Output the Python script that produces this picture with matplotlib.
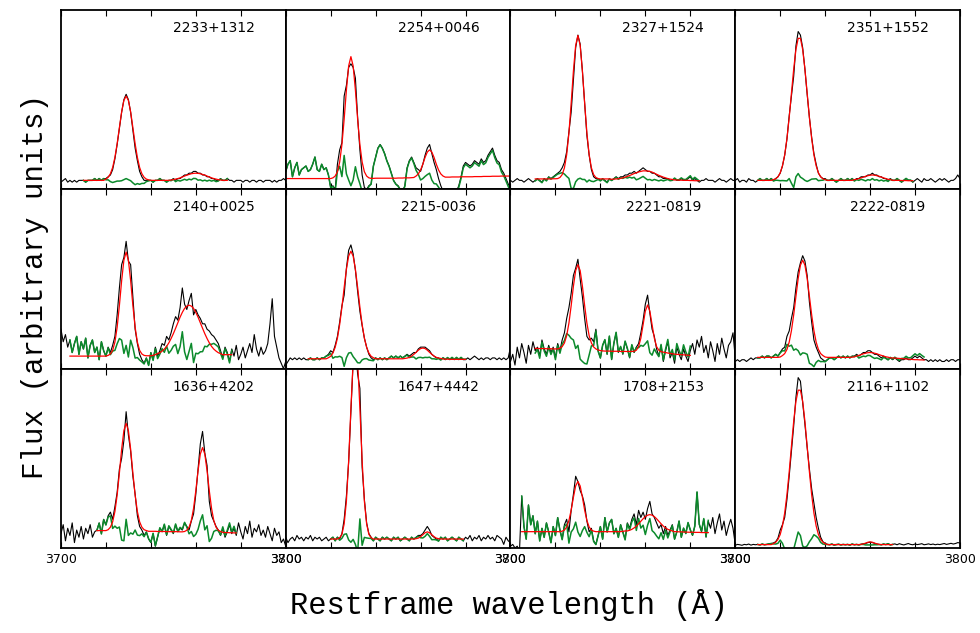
import numpy as np
import matplotlib
matplotlib.use("Agg")
import matplotlib.pyplot as plt

# restframe wavelength grid, 1 A bins
wave = np.arange(3700, 3801)

names = ["2233+1312", "2254+0046", "2327+1524", "2351+1552",
         "2140+0025", "2215-0036", "2221-0819", "2222-0819",
         "1636+4202", "1647+4442", "1708+2153", "2116+1102"]

# observed flux (arbitrary units), 3700..3800
flux_2233 = [4, 5, 6, 4, 5, 4, 5, 4, 5, 5, 5, 4, 5, 5, 5, 6, 5, 6, 5, 6,
             6, 7, 8, 11, 17, 25, 34, 43, 50, 53, 50, 43, 33, 23, 16, 10, 7, 5, 5, 5,
             5, 4, 5, 5, 6, 5, 5, 4, 5, 5, 6, 5, 6, 6, 7, 8, 8, 9, 9, 10,
             10, 9, 9, 8, 8, 7, 7, 6, 6, 5, 5, 6, 5, 5, 6, 5, 5, 4, 5, 5,
             5, 4, 5, 5, 4, 5, 5, 4, 5, 5, 4, 5, 5, 5, 4, 5, 4, 5, 5, 6, 5]
flux_2254 = [10, 14, 16, 7, 12, 15, 8, 11, 12, 13, 10, 11, 14, 18, 11, 10, 14, 11, 12, 8,
             1, 2, 0, 14, 22, 26, 52, 58, 68, 70, 68, 62, 40, 22, 8, 1, 0, 2, 3, 13,
             18, 23, 25, 23, 20, 16, 13, 9, 5, 3, 2, 0, -1, 2, 12, 16, 18, 15, 12, 11,
             10, 14, 19, 23, 25, 20, 15, 11, 6, 2, -1, -2, -3, -3, -2, -3, -1, 2, 7, 13,
             15, 14, 13, 14, 16, 15, 14, 17, 15, 16, 19, 21, 23, 19, 16, 15, 11, 9, 6, 3, 0]
flux_2327 = [5, 4, 5, 6, 5, 5, 4, 5, 6, 5, 4, 5, 6, 5, 4, 6, 5, 7, 6, 7,
             8, 9, 10, 12, 15, 21, 32, 43, 61, 79, 86, 81, 66, 48, 30, 19, 11, 7, 6, 6,
             5, 6, 5, 4, 6, 5, 6, 7, 6, 7, 7, 8, 8, 9, 9, 10, 9, 10, 11, 12,
             11, 10, 10, 9, 9, 8, 7, 7, 6, 6, 6, 5, 5, 6, 5, 5, 6, 5, 5, 6,
             7, 5, 6, 5, 4, 5, 5, 6, 5, 5, 5, 4, 5, 6, 5, 5, 4, 5, 6, 5, 5]
flux_2351 = [5, 6, 4, 5, 5, 4, 6, 5, 5, 4, 5, 6, 5, 5, 6, 5, 6, 5, 6, 7,
             9, 13, 19, 28, 41, 52, 63, 80, 88, 86, 79, 67, 53, 40, 29, 20, 14, 9, 7, 6,
             6, 5, 5, 6, 5, 4, 5, 6, 5, 5, 6, 5, 6, 5, 6, 6, 7, 7, 7, 8,
             8, 9, 8, 8, 7, 7, 6, 6, 5, 6, 5, 5, 6, 5, 4, 5, 6, 5, 5, 4,
             5, 6, 5, 4, 6, 5, 5, 6, 5, 4, 5, 6, 5, 6, 5, 4, 5, 5, 6, 8, 6]
flux_2140 = [22, 15, 19, 12, 16, 9, 14, 18, 8, 15, 11, 17, 6, 13, 16, 9, 12, 5, 15, 10,
             7, 12, 9, 13, 18, 30, 45, 58, 62, 71, 60, 58, 40, 22, 14, 8, 5, 3, 6, 2,
             9, 5, 12, 7, 10, 14, 13, 18, 16, 20, 25, 29, 27, 34, 45, 36, 33, 38, 42, 30,
             33, 30, 28, 25, 25, 22, 21, 19, 18, 16, 14, 10, 6, 12, 9, 4, 11, 7, 13, 5,
             8, 12, 6, 10, 14, 9, 19, 11, 7, 12, 8, 10, 14, 25, 39, 18, 12, 6, 3, 0, 4]
flux_2215 = [2, 4, 6, 5, 6, 5, 6, 5, 6, 5, 5, 6, 5, 5, 6, 5, 6, 6, 7, 8,
             10, 9, 13, 18, 26, 35, 41, 56, 66, 69, 64, 55, 43, 32, 24, 17, 12, 8, 6, 5,
             6, 5, 6, 5, 6, 5, 6, 7, 6, 7, 6, 7, 6, 7, 8, 7, 8, 9, 9, 11,
             12, 12, 12, 11, 10, 8, 7, 6, 6, 5, 6, 5, 6, 5, 6, 5, 6, 5, 6, 5,
             5, 6, 5, 6, 7, 6, 5, 6, 5, 6, 6, 5, 6, 6, 5, 6, 5, 6, 5, 6, 12]
flux_2221 = [4, 8, 2, 12, 6, 14, 9, 3, 13, 8, 15, 10, 12, 7, 16, 11, 8, 13, 9, 12,
             6, 14, 10, 16, 20, 28, 34, 42, 52, 56, 61, 50, 40, 28, 18, 16, 17, 15, 22, 10,
             6, 13, 16, 8, 18, 5, 14, 20, 9, 12, 8, 15, 11, 6, 13, 9, 12, 14, 20, 27,
             36, 41, 31, 22, 18, 11, 7, 13, 4, 10, 15, 6, 9, 3, 12, 8, 5, 11, 7, 4,
             10, 14, 8, 16, 12, 18, 9, 13, 6, 15, 10, 4, 14, 8, 17, 11, 6, 13, 15, 20, 6]
flux_2222 = [4, 5, 4, 5, 5, 4, 5, 6, 5, 6, 6, 6, 7, 6, 7, 7, 6, 7, 8, 7,
             9, 11, 12, 18, 21, 28, 34, 45, 54, 59, 63, 60, 52, 37, 26, 16, 12, 9, 6, 5,
             4, 5, 6, 6, 5, 6, 7, 6, 7, 6, 7, 6, 7, 7, 8, 7, 8, 9, 9, 10,
             10, 9, 8, 8, 7, 6, 7, 6, 5, 6, 5, 6, 5, 4, 5, 5, 6, 5, 5, 6,
             7, 6, 7, 6, 5, 5, 4, 5, 4, 5, 4, 5, 4, 4, 5, 4, 5, 5, 4, 5, 5]
flux_1636 = [8, 13, 4, 11, 7, 14, 3, 10, 6, 12, 5, 11, 8, 13, 6, 9, 10, 14, 8, 16,
             13, 18, 20, 16, 23, 31, 44, 50, 60, 76, 63, 54, 40, 30, 18, 12, 10, 7, 9, 5,
             3, 8, 1, 6, 11, 9, 13, 7, 12, 10, 8, 13, 9, 11, 10, 14, 12, 10, 15, 19,
             30, 44, 58, 65, 53, 46, 26, 18, 15, 12, 10, 7, 11, 6, 9, 13, 8, 11, 7, 14,
             9, 5, 12, 8, 15, 6, 11, 9, 13, 7, 10, 6, 12, 8, 4, 11, 7, 9, 3, 5, 1]
flux_1647 = [6, 3, 5, 6, 4, 7, 5, 6, 4, 6, 5, 7, 4, 6, 5, 6, 4, 5, 6, 4,
             5, 6, 4, 6, 5, 8, 16, 29, 48, 76, 104, 112, 97, 89, 45, 27, 14, 8, 6, 4,
             6, 5, 4, 6, 5, 6, 5, 4, 6, 5, 6, 4, 5, 6, 5, 4, 6, 5, 6, 7,
             7, 8, 10, 12, 10, 7, 6, 5, 4, 6, 5, 6, 4, 5, 6, 5, 4, 6, 5, 4,
             6, 5, 7, 4, 6, 5, 7, 4, 6, 5, 7, 5, 6, 4, 7, 6, 5, 2, 6, 4, 3]
flux_1708 = [1, 2, 0, 1, -2, 29, 12, 5, 24, 13, 18, 8, 15, 4, 11, 6, 14, 9, 3, 12,
             7, 17, 10, 5, 13, 16, 9, 21, 30, 40, 37, 32, 29, 24, 15, 9, 11, 4, 2, 7,
             12, 5, 17, 9, 14, 16, 8, 11, 6, 13, 9, 5, 14, 11, 16, 19, 13, 21, 17, 20,
             16, 22, 26, 19, 17, 14, 11, 13, 8, 12, 7, 10, 13, 5, 9, 15, 6, 11, 8, 14,
             10, 7, 12, 31, 13, 9, 16, 6, 15, 11, 17, 8, 14, 19, 10, 15, 7, 12, 16, 11, 2]
flux_2116 = [1.5, 2, 1.8, 1.5, 2, 1.8, 2.2, 1.6, 2, 1.8, 2, 1.7, 2.2, 1.8, 2, 2.3, 2.5, 2.8, 3.5, 5.5,
             10, 13, 17, 27, 40, 54, 68, 84, 95, 93, 81, 69, 56, 44, 33, 25, 17, 11, 6, 3.5,
             2.5, 2, 1.8, 2.2, 1.6, 1.9, 2.1, 1.7, 2, 1.8, 2, 1.6, 2.2, 1.8, 2, 1.7, 2.1, 2.4, 2.5, 3,
             3.2, 3, 2.6, 2.2, 2, 1.8, 2.2, 1.9, 2.4, 1.7, 2, 2.3, 1.8, 2.4, 2, 1.7, 2.1, 2.5, 2, 1.8,
             2.2, 1.9, 2.1, 2.4, 1.8, 2, 2.3, 1.9, 2.2, 1.8, 2.1, 1.9, 2.2, 2.5, 2, 2.3, 2.6, 2.2, 2.5, 3, 2.8]

# line fits, starting at fit_start (1 A bins)
fit_start = [3710, 3700, 3711, 3710, 3704, 3710, 3711, 3710, 3716, 3720, 3705, 3710]
fit_2233 = [5, 5, 5, 5, 5, 5, 5, 5, 5, 5,
            5.7, 6.7, 8.7, 12.2, 17.8, 25.4, 34.4, 43.2, 49.6, 52,
            49.6, 43.2, 34.4, 25.4, 17.8, 12.2, 8.7, 6.7, 5.7, 5.3,
            5, 5, 5, 5, 5, 5, 5, 5, 5, 5.2,
            5.4, 5.7, 6, 6.4, 6.9, 7.4, 7.9, 8.3, 8.7, 8.9,
            9, 8.9, 8.7, 8.3, 7.9, 7.4, 6.9, 6.4, 6, 5.7,
            5.4, 5.2, 5, 5, 5]
fit_2254 = [6, 6, 6, 6, 6, 6, 6, 6, 6, 6,
            6, 6, 6, 6, 6, 6, 6, 6, 6, 6,
            6, 6.4, 7.4, 9.8, 15.2, 24.9, 39.1, 55.4, 68.8, 74,
            68.8, 55.4, 39.1, 24.9, 15.2, 9.8, 7.4, 6.4, 6.1, 6.1,
            6.2, 6.2, 6.2, 6.2, 6.2, 6.2, 6.2, 6.2, 6.2, 6.2,
            6.3, 6.3, 6.3, 6.4, 6.4, 6.4, 6.5, 6.6, 7.4, 8.6,
            10.8, 14, 17.8, 20.8, 22, 20.8, 17.8, 14, 10.8, 8.6,
            7.4, 6.8, 6.8, 6.8, 6.9, 6.9, 6.9, 6.9, 7, 7,
            7, 7, 7, 7, 7.1, 7.1, 7.1, 7.1, 7.2, 7.2,
            7.2, 7.2, 7.3, 7.3, 7.3, 7.3, 7.4, 7.4, 7.4, 7.4, 7.4]
fit_2327 = [5.8, 5.8, 5.8, 5.8, 5.8, 5.8, 5.8, 5.8, 5.9,
            5.9, 6, 6.6, 8.2, 12, 19.3, 31.4, 48, 66, 80.3,
            85.8, 80.3, 66, 48, 31.4, 19.3, 12, 8.2, 6.6, 6,
            5.8, 5.8, 5.8, 5.8, 5.8, 5.6, 5.7, 5.8, 5.9, 6.1,
            6.4, 6.8, 7.2, 7.7, 8.2, 8.8, 9.2, 9.7, 10, 10.3,
            10.3, 10.2, 10, 9.6, 9, 8.4, 7.8, 7.3, 6.8, 6.4,
            6, 5.7, 5.5, 5.2, 5.2, 5.1, 5.1, 5, 5, 5,
            4.9, 4.9, 4.8, 4.8, 4.8]
fit_2351 = [5, 5, 5, 5, 5, 5, 5, 5.4, 5.9, 7,
            9.2, 13.1, 19.2, 28.3, 40, 53.6, 67, 78, 84.2, 84.2,
            78, 67, 53.6, 40, 28.3, 19.2, 13.1, 9.2, 7, 5.9,
            5.4, 5, 5, 5, 5, 5, 5, 5, 5, 5,
            5, 5, 5, 5.4, 5.6, 6, 6.4, 6.8, 7.3, 7.6,
            7.9, 8, 7.9, 7.6, 7.3, 6.8, 6.4, 6, 5.6, 5.4,
            5, 5, 5, 5, 4.9, 4.9, 4.9, 4.8, 4.8, 4.8]
fit_2140 = [7, 7, 7, 7, 7, 7,
            7, 7, 7, 7, 7, 7, 7, 7, 7, 7,
            7, 7.4, 8.2, 10.2, 14.8, 23.1, 35.2, 49.1, 60.5, 65,
            60.5, 49.1, 35.2, 23.1, 14.8, 10.2, 8.2, 7.4, 7.2, 7.2,
            7.2, 7.4, 7.8, 8.4, 8.9, 9.8, 10.9, 12.4, 14.4, 16.8,
            19.5, 22.5, 25.6, 28.7, 31.4, 33.6, 34.9, 35.4, 34.9, 33.6,
            31.4, 28.7, 25.6, 22.5, 19.5, 16.8, 14.4, 12.4, 10.9, 9.8,
            8.9, 8.4, 7.8, 7.8, 7.8, 7.8, 7.8]
fit_2215 = [5.5, 5.5, 5.5, 5.5, 5.5, 5.5, 5.5, 5.5, 5.5, 6.1,
            6.9, 8.7, 11.9, 17, 24.6, 34.3, 45.2, 55.4, 62.8, 65.5,
            62.8, 55.4, 45.2, 34.3, 24.6, 17, 11.9, 8.7, 6.9, 6.1,
            5.5, 5.5, 5.5, 5.5, 5.5, 5.5, 5.5, 5.5, 5.5, 5.5,
            5.5, 5.5, 5.5, 5.7, 5.9, 6.3, 7, 8, 9.1, 10.3,
            11.2, 11.5, 11.2, 10.3, 9.1, 8, 7, 6.3, 5.9, 5.7,
            5.4, 5.3, 5.3, 5.2, 5.2, 5.2, 5.2, 5.2, 5.2, 5.2,
            5.2]
fit_2221 = [11.3, 11.3, 11.2, 11.2, 11.2, 11.1, 11.1, 11.1, 11,
            11, 11, 11.4, 12.3, 14.3, 18.4, 25.4, 35.1, 46, 54.7,
            58, 54.7, 46, 35.1, 25.4, 18.4, 14.3, 12.1, 11, 10.4,
            10.1, 9.9, 9.8, 9.8, 9.8, 9.7, 9.7, 9.7, 9.7, 9.6,
            9.6, 9.6, 9.6, 9.6, 9.6, 9.7, 10.3, 12.3, 17, 24.5,
            32.1, 35.5, 32.1, 24.5, 17, 12.3, 10.3, 9.5, 9.2, 9,
            8.7, 8.5, 8.3, 8.1, 8, 7.9, 7.8, 7.7, 7.6, 7.5,
            7.4]
fit_2222 = [6.3, 6.3, 6.3, 6.3, 6.3, 6.3, 6.3, 6.3, 6.3, 6.3,
            6.5, 7.3, 8.4, 10.7, 14.8, 21.2, 30, 40.3, 50.3, 57.7,
            60.5, 57.7, 50.3, 40.3, 30, 21.2, 14.8, 10.7, 8.4, 7.3,
            6.5, 6.3, 6.3, 6.3, 6.3, 6.3, 6.3, 6.3, 6.3, 6.3,
            6.3, 6.3, 6.4, 6.6, 7, 7.4, 7.8, 8.3, 8.6, 8.9,
            9, 8.9, 8.6, 8.3, 7.8, 7.4, 7, 6.6, 6.4, 6,
            6, 5.9, 5.8, 5.7, 5.6, 5.5, 5.4, 5.3, 5.2, 5.1,
            5, 5, 4.9, 4.9, 4.8]
fit_1636 = [9.7, 9.7, 9.7, 9.7,
            9.7, 10.2, 11.6, 14.6, 20.3, 29.5, 41.8, 55.1, 65.5, 69.5,
            65.5, 55.1, 41.8, 29.5, 20.3, 14.6, 11.6, 10.2, 9.7, 9.3,
            9.3, 9.3, 9.3, 9.2, 9.2, 9.2, 9.2, 9.1, 9.1, 9.1,
            9.1, 9.1, 9.1, 9, 9, 9.2, 9.9, 11.6, 15.3, 22.1,
            31.9, 43.1, 52.4, 56, 52.4, 43.1, 31.9, 22.1, 15.3, 11.6,
            9.9, 9.2, 8.7, 8.6, 8.6, 8.5, 8.5, 8.4, 8.4]
fit_1647 = [5, 5, 5, 5, 5.7, 7.6, 13.4, 26.1, 48.5, 77.8,
            104.2, 115, 104.2, 77.8, 48.5, 26.1, 13.4, 7.6, 5.7, 5,
            5, 5, 5, 5, 5, 5, 5, 5, 5, 5,
            5, 5, 5, 5, 5, 5, 5, 5, 5.2, 5.5,
            6.3, 7.4, 8.5, 9, 8.5, 7.4, 6.3, 5.5, 5.2, 5,
            5, 5, 5, 5, 5, 5, 5, 5, 5, 5]
fit_1708 = [9.1, 9.1, 9.1, 9.1, 9.1,
            9.1, 9.1, 9.1, 9.1, 9.1, 9.1, 9.1, 9.1, 9.1, 9.1,
            9.1, 9.1, 9.1, 9.4, 10, 11.7, 15.3, 21.1, 28.3, 34.6,
            37.1, 34.6, 28.3, 21.1, 15.3, 11.7, 10, 9.4, 9.1, 9.1,
            9.1, 9.1, 9.1, 9.1, 9.1, 9.1, 9.1, 9.1, 9.1, 9.1,
            9.3, 9.5, 9.5, 9.9, 10.4, 11.2, 12.2, 13.5, 14.9, 16.3,
            17.5, 18.3, 18.6, 18.3, 17.5, 16.3, 14.9, 13.5, 12.2, 11.2,
            10.4, 9.9, 9.5, 9.1, 9.1, 9, 9, 8.9, 8.9, 8.8,
            8.8, 8.8, 8.7, 8.7, 8.7, 8.6, 8.6, 8.6, 8.6]
fit_2116 = [1.9, 1.9, 1.9, 1.9, 1.9, 1.9, 1.9, 2.4, 3.2, 4.8,
            7.5, 12.3, 19.5, 29.7, 42.4, 56.7, 70.6, 81.8, 88, 88,
            81.8, 70.6, 56.7, 42.4, 29.7, 19.5, 12.3, 7.5, 4.8, 3.2,
            2.4, 1.9, 1.9, 1.9, 1.9, 1.9, 1.9, 1.9, 1.9, 1.9,
            1.9, 1.9, 1.9, 1.9, 1.9, 1.9, 2, 2.3, 2.7, 3.2,
            3.4, 3.2, 2.7, 2.3, 2, 1.9, 1.9, 1.9, 1.9, 1.9,
            1.9]

# continuum level the residuals are plotted around
cont = [5, 6, 5.5, 5, 7, 5.5, 10, 6.3, 9.5, 5, 9, 1.9]

fluxes = [flux_2233, flux_2254, flux_2327, flux_2351, flux_2140, flux_2215,
          flux_2221, flux_2222, flux_1636, flux_1647, flux_1708, flux_2116]
fits = [fit_2233, fit_2254, fit_2327, fit_2351, fit_2140, fit_2215,
        fit_2221, fit_2222, fit_1636, fit_1647, fit_1708, fit_2116]

fig, axes = plt.subplots(3, 4, figsize=(9.8, 6.33), dpi=100)
fig.subplots_adjust(left=0.0622, right=0.9796, bottom=0.1343, top=0.9842,
                    wspace=0, hspace=0)

for i, ax in enumerate(axes.flat):
    f = np.array(fluxes[i], dtype=float)
    m = np.array(fits[i], dtype=float)
    w_fit = np.arange(fit_start[i], fit_start[i] + len(m))
    j = fit_start[i] - 3700
    resid = f[j:j + len(m)] - m + cont[i]

    ax.plot(wave, f, color="black", lw=0.8)
    ax.plot(w_fit, resid, color="#0b8a2b", lw=1.1)
    ax.plot(w_fit, m, color="red", lw=0.9)

    ax.set_xlim(3700, 3800)
    ax.set_ylim(0, 100)
    ax.set_yticks([])
    ax.set_xticks(np.arange(3700, 3801, 20))
    ax.tick_params(axis="x", direction="in", top=True, bottom=True,
                   length=4, width=0.8, labelsize=9)
    if i >= 8:
        ax.set_xticklabels(["3700", "", "", "", "", "3800"])
    else:
        ax.tick_params(axis="x", labelbottom=False)
    for s in ax.spines.values():
        s.set_linewidth(1.3)
    ax.text(0.68, 0.9, names[i], transform=ax.transAxes, ha="center",
            va="center", fontsize=10)

fig.text(0.519, 0.044, "Restframe wavelength (Å)", ha="center", va="center",
         fontsize=22, family="Liberation Mono")
fig.text(0.036, 0.547, "Flux (arbitrary units)", ha="center", va="center",
         rotation=90, fontsize=21, family="Liberation Mono")

plt.savefig("out.png", dpi=100)
